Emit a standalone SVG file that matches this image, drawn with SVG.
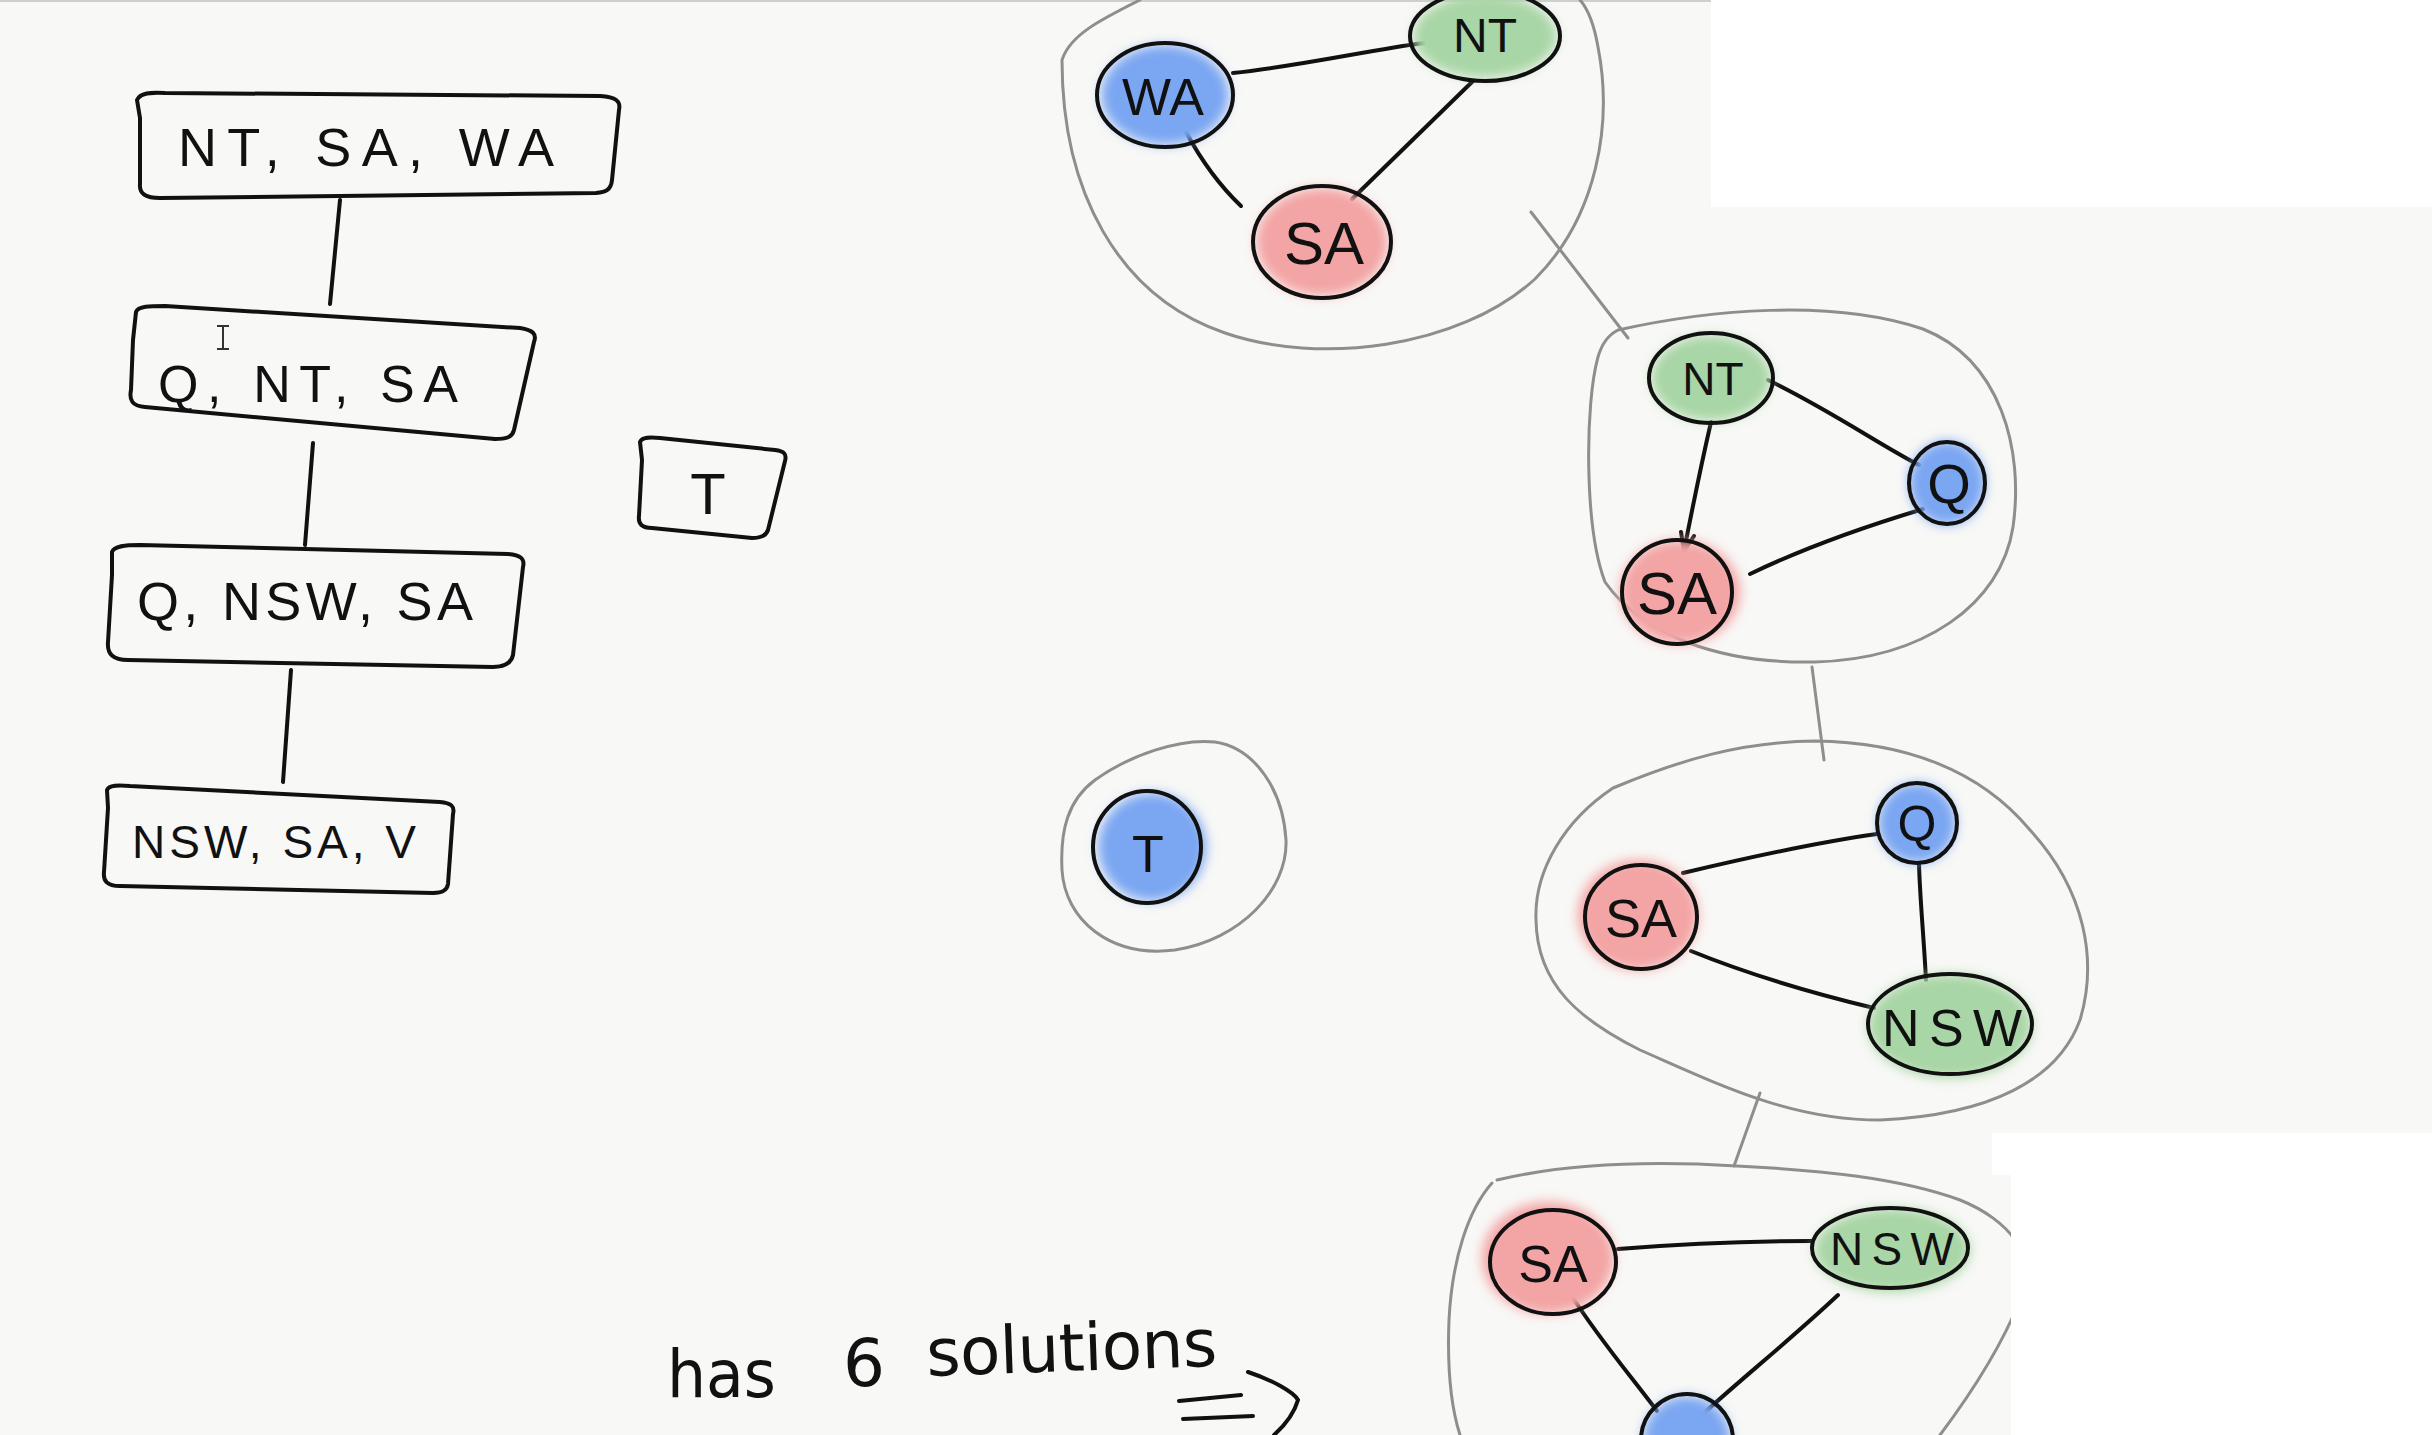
<svg xmlns="http://www.w3.org/2000/svg" width="2432" height="1435" viewBox="0 0 2432 1435">
  <defs>
    <filter id="soft" x="-30%" y="-30%" width="160%" height="160%">
      <feGaussianBlur stdDeviation="6"/>
    </filter>
    <style>
      .ink{fill:none;stroke:#111;stroke-width:4;stroke-linecap:round;stroke-linejoin:round}
      .edge{fill:none;stroke:#111;stroke-width:4;stroke-linecap:round}
      .hull{fill:none;stroke:#8e8e8e;stroke-width:3;stroke-linecap:round}
      .link{fill:none;stroke:#8e8e8e;stroke-width:3;stroke-linecap:round}
      .ring{fill:none;stroke:#111;stroke-width:4}
      .blue{fill:#7aa6f2;filter:url(#soft)}
      .green{fill:#a9d6a6;filter:url(#soft)}
      .red{fill:#f3a4a4;filter:url(#soft)}
      .lbl{font-family:"Liberation Sans",Arial,sans-serif;fill:#111;text-anchor:middle}
      .hand{font-family:"DejaVu Sans","Liberation Sans",sans-serif;fill:#111;font-size:66px}
    </style>
  </defs>

  <!-- paper -->
  <rect x="0" y="0" width="2432" height="1435" fill="#f8f8f6"/>
  <rect x="0" y="0" width="1711" height="2" fill="#cfcfcf"/>

  <!-- left column: tree of variable groups -->
  <g id="tree-links">
    <path class="edge" d="M340,200 L330,304"/>
    <path class="edge" d="M313,443 L305,545"/>
    <path class="edge" d="M291,670 L283,782"/>
  </g>

  <g id="box-nt-sa-wa">
    <path class="ink" d="M140,118 L137,100 C140,93 150,92 165,93 L600,96 C616,97 621,101 619,110 L612,180 C611,190 606,192 596,193 L160,198 C146,198 139,194 140,184 Z"/>
    <text class="lbl" x="366" y="166" font-size="54" textLength="376" lengthAdjust="spacing">NT, SA, WA</text>
  </g>

  <g id="box-q-nt-sa">
    <path class="ink" d="M133,340 L136,312 C138,306 150,306 165,306 L520,328 C533,330 537,334 534,342 L514,430 C512,438 505,439 495,439 L145,407 C132,406 129,400 131,390 Z"/>
    <text class="lbl" x="308" y="402" font-size="52" textLength="300" lengthAdjust="spacing">Q, NT, SA</text>
    <!-- I-beam pointer -->
    <path d="M223,326 L223,349 M217,326 L229,326 M217,349 L229,349" stroke="#333" stroke-width="2" fill="none"/>
  </g>

  <g id="box-q-nsw-sa">
    <path class="ink" d="M112,575 L112,552 C114,546 125,545 140,545 L508,554 C521,555 525,559 523,567 L513,655 C511,664 504,667 493,667 L128,660 C113,660 107,654 108,642 Z"/>
    <text class="lbl" x="305" y="620" font-size="54" textLength="336" lengthAdjust="spacing">Q, NSW, SA</text>
  </g>

  <g id="box-nsw-sa-v">
    <path class="ink" d="M108,808 L107,790 C109,785 118,785 130,786 L440,802 C451,803 455,806 453,814 L448,884 C447,891 442,893 433,893 L120,886 C107,886 103,881 104,872 Z"/>
    <text class="lbl" x="274" y="858" font-size="46" textLength="284" lengthAdjust="spacing">NSW, SA, V</text>
  </g>

  <g id="box-t">
    <path class="ink" d="M642,460 L640,442 C642,437 650,437 660,438 L775,450 C784,451 787,454 785,461 L768,530 C766,536 761,538 752,538 L652,528 C642,528 638,524 639,516 Z"/>
    <text class="lbl" x="708" y="514" font-size="58">T</text>
  </g>

  <!-- right column: constraint-graph hulls -->
  <g id="hulls">
    <path class="hull" d="M1140,0 C1100,20 1070,35 1062,60 C1062,190 1117,296 1225,333 C1318,365 1458,349 1535,279 C1597,217 1613,124 1598,47 C1594,24 1588,9 1580,0"/>
    <path class="hull" d="M1618,330 C1708,310 1830,298 1923,329 C2001,360 2024,450 2013,527 C2001,605 1923,659 1815,662 C1721,664 1643,636 1605,582 C1584,527 1585,403 1598,357 C1602,343 1610,334 1618,330 Z"/>
    <path class="hull" d="M1613,788 C1680,760 1740,742 1815,741 C1905,742 1980,770 2030,830 C2085,890 2098,960 2080,1020 C2058,1080 1990,1115 1880,1120 C1790,1120 1720,1085 1640,1050 C1580,1020 1537,985 1536,920 C1534,870 1565,820 1613,788 Z"/>
    <path class="hull" d="M1497,1180 C1560,1165 1640,1160 1737,1166 C1820,1170 1900,1178 1960,1200 C1985,1210 2005,1225 2015,1240"/>
    <path class="hull" d="M1492,1183 C1468,1210 1452,1260 1449,1320 C1447,1370 1452,1410 1460,1435"/>
    <path class="hull" d="M2020,1300 C2000,1350 1970,1395 1940,1435"/>
    <path class="hull" d="M1095,780 C1130,755 1180,738 1215,742 C1255,748 1283,790 1286,840 C1288,890 1240,940 1175,950 C1110,958 1065,920 1062,870 C1060,830 1068,800 1095,780 Z"/>
  </g>

  <!-- connectors -->
  <g id="connectors">
    <path class="link" d="M1531,212 L1628,338"/>
    <path class="link" d="M1812,667 L1824,760"/>
    <path class="link" d="M1760,1093 L1734,1166"/>

    <path class="edge" d="M1233,73 C1300,66 1370,50 1424,43"/>
    <path class="edge" d="M1473,81 L1352,199"/>
    <path class="edge" d="M1186,132 C1200,158 1220,186 1241,206"/>

    <path class="edge" d="M1768,380 C1830,410 1880,445 1919,465"/>
    <path class="edge" d="M1711,422 C1700,470 1692,510 1684,551 M1684,551 L1681,532 M1684,551 L1694,536"/>
    <path class="edge" d="M1750,574 C1810,545 1870,525 1923,509"/>

    <path class="edge" d="M1683,873 C1750,857 1820,842 1877,834"/>
    <path class="edge" d="M1919,864 C1920,900 1924,940 1926,980"/>
    <path class="edge" d="M1691,951 C1750,975 1820,995 1874,1008"/>

    <path class="edge" d="M1618,1249 C1680,1244 1750,1241 1812,1241"/>
    <path class="edge" d="M1571,1295 C1600,1340 1630,1375 1657,1411"/>
    <path class="edge" d="M1838,1295 C1790,1340 1740,1380 1703,1414"/>

    <!-- "=>" pointer -->
    <path class="edge" d="M1179,1401 L1241,1395 M1183,1419 L1253,1416 M1248,1372 C1272,1380 1294,1392 1298,1400 C1294,1414 1284,1426 1274,1435"/>
  </g>

  <!-- cluster: WA / NT / SA -->
  <g id="node-wa">
    <ellipse class="blue" cx="1165" cy="95" rx="64" ry="50"/>
    <ellipse class="ring" cx="1165" cy="95" rx="68" ry="52"/>
    <text class="lbl" x="1163" y="115" font-size="52">WA</text>
  </g>
  <g id="node-nt">
    <ellipse class="green" cx="1485" cy="36" rx="72" ry="42"/>
    <ellipse class="ring" cx="1485" cy="36" rx="75" ry="45"/>
    <text class="lbl" x="1485" y="52" font-size="48">NT</text>
  </g>
  <g id="node-sa">
    <ellipse class="red" cx="1322" cy="242" rx="66" ry="54"/>
    <ellipse class="ring" cx="1322" cy="242" rx="69" ry="56"/>
    <text class="lbl" x="1324" y="264" font-size="60">SA</text>
  </g>

  <!-- cluster: NT / Q / SA -->
  <g id="node-nt-2">
    <ellipse class="green" cx="1711" cy="378" rx="60" ry="43"/>
    <ellipse class="ring" cx="1711" cy="378" rx="62" ry="45"/>
    <text class="lbl" x="1713" y="395" font-size="46">NT</text>
  </g>
  <g id="node-q-2">
    <ellipse class="blue" cx="1947" cy="483" rx="38" ry="42"/>
    <ellipse class="ring" cx="1947" cy="483" rx="38" ry="41"/>
    <text class="lbl" x="1949" y="503" font-size="56">Q</text>
  </g>
  <g id="node-sa-2">
    <ellipse class="red" cx="1680" cy="592" rx="60" ry="52"/>
    <ellipse class="ring" cx="1677" cy="592" rx="55" ry="52"/>
    <text class="lbl" x="1677" y="614" font-size="60">SA</text>
  </g>

  <!-- cluster: SA / Q / NSW -->
  <g id="node-q-3">
    <ellipse class="blue" cx="1917" cy="823" rx="39" ry="40"/>
    <ellipse class="ring" cx="1917" cy="823" rx="40" ry="40"/>
    <text class="lbl" x="1917" y="841" font-size="50">Q</text>
  </g>
  <g id="node-sa-3">
    <ellipse class="red" cx="1638" cy="915" rx="60" ry="55"/>
    <ellipse class="ring" cx="1641" cy="917" rx="56" ry="52"/>
    <text class="lbl" x="1641" y="937" font-size="54">SA</text>
  </g>
  <g id="node-nsw-3">
    <ellipse class="green" cx="1950" cy="1026" rx="82" ry="52"/>
    <ellipse class="ring" cx="1950" cy="1024" rx="82" ry="50"/>
    <text class="lbl" x="1952" y="1046" font-size="52" textLength="140" lengthAdjust="spacing">NSW</text>
  </g>

  <!-- cluster: SA / NSW / V -->
  <g id="node-sa-4">
    <ellipse class="red" cx="1548" cy="1258" rx="66" ry="56"/>
    <ellipse class="ring" cx="1553" cy="1262" rx="63" ry="52"/>
    <text class="lbl" x="1553" y="1282" font-size="52">SA</text>
  </g>
  <g id="node-nsw-4">
    <ellipse class="green" cx="1892" cy="1250" rx="78" ry="42"/>
    <ellipse class="ring" cx="1890" cy="1248" rx="78" ry="40"/>
    <text class="lbl" x="1892" y="1265" font-size="46" textLength="124" lengthAdjust="spacing">NSW</text>
  </g>
  <g id="node-v">
    <ellipse class="blue" cx="1687" cy="1440" rx="44" ry="44"/>
    <ellipse class="ring" cx="1687" cy="1440" rx="46" ry="46"/>
  </g>

  <!-- lone T -->
  <g id="node-t">
    <ellipse class="blue" cx="1152" cy="847" rx="54" ry="54"/>
    <ellipse class="ring" cx="1147" cy="847" rx="54" ry="56"/>
    <text class="lbl" x="1148" y="872" font-size="52">T</text>
  </g>

  <!-- caption, words spaced apart -->
  <g id="caption">
    <text class="hand" x="667" y="1397" textLength="109" lengthAdjust="spacingAndGlyphs">has</text>
    <text class="hand" x="843" y="1386">6</text>
    <text class="hand" x="927" y="1376" transform="rotate(-2 927 1376)" textLength="291" lengthAdjust="spacing">solutions</text>
  </g>

  <!-- blank screen areas -->
  <rect x="1711" y="0" width="721" height="207" fill="#ffffff"/>
  <rect x="1992" y="1133" width="440" height="42" fill="#ffffff"/>
  <rect x="2011" y="1133" width="421" height="302" fill="#ffffff"/>
</svg>
